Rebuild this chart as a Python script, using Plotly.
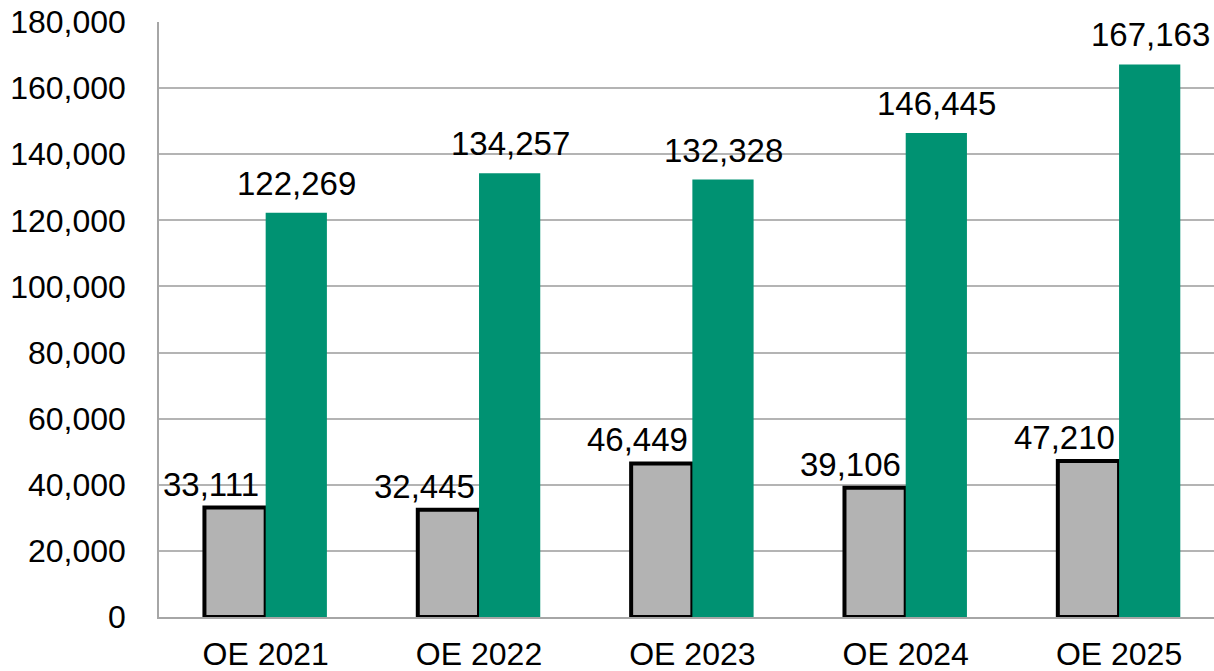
import plotly.graph_objects as go

categories = ["OE 2021", "OE 2022", "OE 2023", "OE 2024", "OE 2025"]
series_gray = [33111, 32445, 46449, 39106, 47210]
series_green = [122269, 134257, 132328, 146445, 167163]
y_ticks = [0, 20000, 40000, 60000, 80000, 100000, 120000, 140000, 160000, 180000]

FONT = "Liberation Sans, Arial, sans-serif"

fig = go.Figure()
fig.add_trace(go.Bar(x=categories, y=series_gray, marker=dict(color="#B3B3B3", line=dict(color="#000000", width=4)), showlegend=False))
fig.add_trace(go.Bar(x=categories, y=series_green, marker=dict(color="#009272", line=dict(width=0)), showlegend=False))

for c, v in zip(categories, series_gray):
    fig.add_annotation(x=c, y=v, text=f"{v:,}", showarrow=False, xref="x", yref="y",
                       xanchor="center", yanchor="bottom", xshift=-55, yshift=3,
                       font=dict(family=FONT, size=33, color="#000"))
for c, v in zip(categories, series_green):
    fig.add_annotation(x=c, y=v, text=f"{v:,}", showarrow=False, xref="x", yref="y",
                       xanchor="center", yanchor="bottom", xshift=31, yshift=9,
                       font=dict(family=FONT, size=33, color="#000"))

fig.update_layout(
    width=1214, height=671,
    margin=dict(l=159, r=0, t=22, b=54),
    barmode="group", bargap=0.426, bargroupgap=0,
    plot_bgcolor="white", paper_bgcolor="white",
    font=dict(family=FONT, size=32, color="#000"),
)
fig.update_yaxes(range=[0, 180000], tickvals=y_ticks, tickformat=",d", automargin=False,
                 showgrid=True, gridcolor="#B4B4B4", gridwidth=1.5,
                 showline=True, linecolor="#A6A6A6", linewidth=1.5,
                 ticks="", ticklabelstandoff=25, zeroline=False,
                 tickfont=dict(family=FONT, size=32, color="#000"))
fig.update_xaxes(range=[-0.5, 4.445], automargin=False, showline=True, linecolor="#A6A6A6", linewidth=1.5, ticks="",
                 tickfont=dict(family=FONT, size=32, color="#000"), ticklabelstandoff=8)

fig.write_html("out.html", config={"displayModeBar": False},
               post_script="document.body.style.margin='0';")
